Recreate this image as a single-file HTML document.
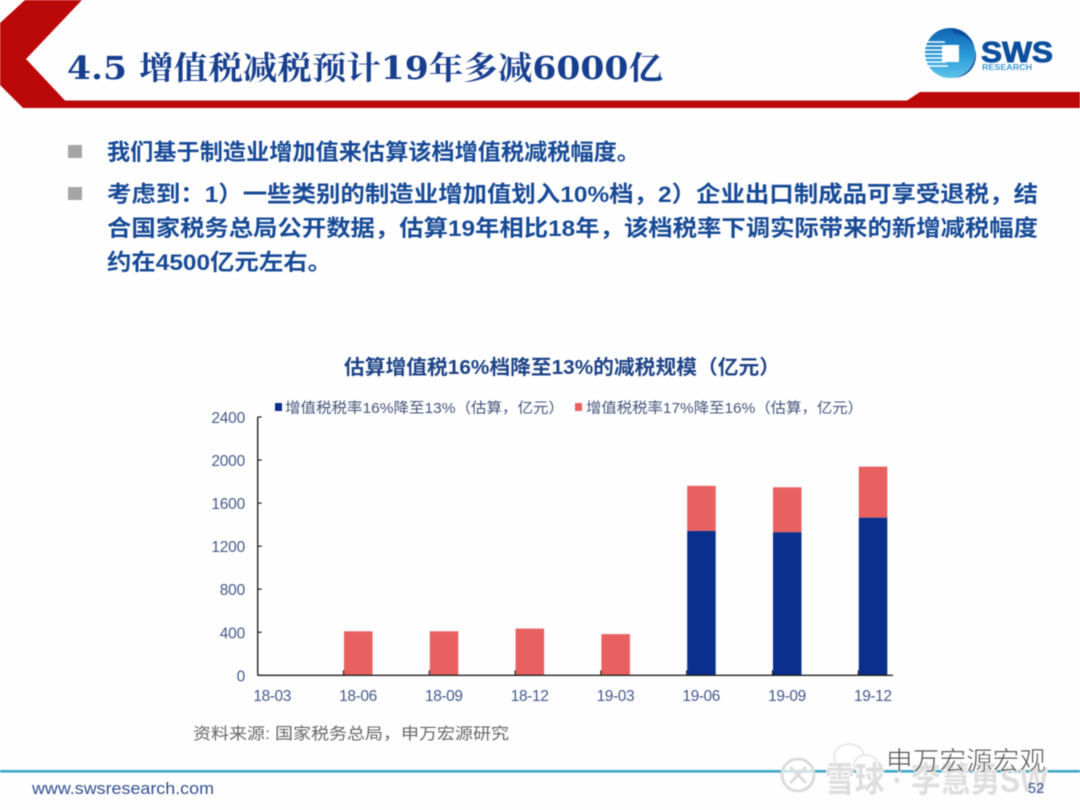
<!DOCTYPE html>
<html lang="zh">
<head>
<meta charset="utf-8">
<title>增值税减税预计</title>
<style>
html,body{margin:0;padding:0;background:#fefefe;width:1080px;height:810px;overflow:hidden}
svg{display:block;filter:blur(.5px)}
text{font-family:"Liberation Sans","Noto Sans CJK SC",sans-serif}
</style>
</head>
<body>
<svg id="slide" xmlns="http://www.w3.org/2000/svg" width="1080" height="810" viewBox="0 0 1080 810">
  <defs>
    <linearGradient id="logoGrad" x1="0" y1="0" x2="0" y2="1">
      <stop offset="0" stop-color="#0f62b0"/>
      <stop offset=".55" stop-color="#2a9bd8"/>
      <stop offset="1" stop-color="#5cc4ea"/>
    </linearGradient>
  </defs>
  <rect width="1080" height="810" fill="#fefefe"/>
  <polygon fill="#bb0808" points="25,0 82,0 26,59 65,100.5 907,100.5 920,92 1080,92 1080,108 23,108 0,85 0,23"/>
  <text x="67" y="79" font-size="32" font-weight="700" fill="#173f8e" textLength="596" lengthAdjust="spacingAndGlyphs" style="font-family:'DejaVu Serif','Noto Serif CJK SC',serif">4.5 增值税减税预计19年多减6000亿</text>

  <g>
    <circle cx="950" cy="53" r="25" fill="url(#logoGrad)"/>
    <path d="M950 28a25 25 0 0 1 4 49.700a22 22 0 0 0 0-44a26 26 0 0 0-4-5.700z" fill="#0b4f9e"/>
    <path d="M925 42h20M925 46h20M925 50h20M925 54h20M925 58h20M926 62h20M928 66h20" stroke="#fff" stroke-width="1.5"/>
    <rect x="942" y="45" width="17" height="17" fill="#fff"/>
    <text x="981" y="62" font-size="29" font-weight="700" fill="#0b4f9e" stroke="#0b4f9e" stroke-width=".9" textLength="72" lengthAdjust="spacingAndGlyphs">SWS</text>
    <text x="982" y="70" font-size="8.500" font-weight="700" fill="#3f9bd4" textLength="50" lengthAdjust="spacingAndGlyphs">RESEARCH</text>
  </g>

  <rect x="68" y="145" width="14" height="13" fill="#a5a5a5"/>
  <rect x="68" y="187" width="14" height="13" fill="#a5a5a5"/>
  <g font-size="22.5" font-weight="700" fill="#174a96">
    <text x="107" y="160" textLength="533" lengthAdjust="spacingAndGlyphs">我们基于制造业增加值来估算该档增值税减税幅度。</text>
    <text x="107" y="202" textLength="931" lengthAdjust="spacingAndGlyphs">考虑到：1）一些类别的制造业增加值划入10%档，2）企业出口制成品可享受退税，结</text>
    <text x="107" y="236" textLength="931" lengthAdjust="spacingAndGlyphs">合国家税务总局公开数据，估算19年相比18年，该档税率下调实际带来的新增减税幅度</text>
    <text x="107" y="270" textLength="225" lengthAdjust="spacingAndGlyphs">约在4500亿元左右。</text>
  </g>

  <text x="344" y="374" font-size="20" font-weight="700" fill="#1d4386" textLength="436" lengthAdjust="spacingAndGlyphs">估算增值税16%档降至13%的减税规模（亿元）</text>

  <g>
    <rect x="275" y="403" width="7" height="8" fill="#0a2f8c"/>
    <text x="285" y="413" font-size="14.5" fill="#44557a" textLength="279" lengthAdjust="spacingAndGlyphs">增值税税率16%降至13%（估算，亿元）</text>
    <rect x="575" y="403" width="7" height="8" fill="#e86060"/>
    <text x="586" y="413" font-size="14.5" fill="#44557a" textLength="277" lengthAdjust="spacingAndGlyphs">增值税税率17%降至16%（估算，亿元）</text>
  </g>

  <g id="chart"></g>

  <text x="193" y="739" font-size="16" fill="#666" textLength="316" lengthAdjust="spacingAndGlyphs">资料来源: 国家税务总局，申万宏源研究</text>

  <rect x="0" y="770" width="1080" height="2.6" fill="#3ba6c4"/>
  <text x="32" y="794" font-size="16.5" fill="#33508f" textLength="182" lengthAdjust="spacingAndGlyphs">www.swsresearch.com</text>

  <g>
    <g fill="#fff" stroke="#e2e2e2" stroke-width="1.5">
      <ellipse cx="849" cy="757" rx="15" ry="13"/>
      <ellipse cx="866" cy="765" rx="12" ry="10"/>
    </g>
    <g fill="#fff" fill-opacity=".7" stroke="#dcdcdc" stroke-width="3">
      <circle cx="798" cy="775" r="16"/>
      <path d="M790 767l16 16M806 767l-16 16" fill="none"/>
    </g>
    <text x="825" y="792" font-size="35" font-weight="700" fill="#dedede" stroke="#fff" stroke-width="1.5" paint-order="stroke" textLength="223" lengthAdjust="spacingAndGlyphs">雪球 · 李慧勇SW</text>
    <text x="886" y="770" font-size="26" fill="#5a5a5a" textLength="160" lengthAdjust="spacingAndGlyphs" stroke="#fff" stroke-width=".6">申万宏源宏观</text>
  </g>
  <text x="1028" y="793" font-size="14.5" fill="#33508f">52</text>
</svg>
<script>
const categories = ['18-03','18-06','18-09','18-12','19-03','19-06','19-09','19-12'];
const cut16to13 = [0,0,0,0,0,1342,1330,1465];
const cut17to16 = [0,409,409,434,383,418,417,474];
const yTickLabels = [0,400,800,1200,1600,2000,2400];

const SVGNS = 'http://www.w3.org/2000/svg';
const chart = document.getElementById('chart');
const plotLeft = 257.7, plotRight = 893, plotBottom = 675.3, plotTop = 417;
const yMax = 2400, step = 85.8, barWidth = 28.5;
const yScale = v => plotBottom - (v / yMax) * (plotBottom - plotTop);
const xScale = i => plotLeft + step * i;

function make(tag, attrs, text) {
  const el = document.createElementNS(SVGNS, tag);
  for (const k in attrs) el.setAttribute(k, attrs[k]);
  if (text !== undefined) el.textContent = text;
  chart.appendChild(el);
  return el;
}

categories.forEach((cat, i) => {
  const x = xScale(i) + .5;
  if (cut16to13[i] > 0) {
    const lower = make('rect', {x: x, y: yScale(cut16to13[i]), width: barWidth, height: plotBottom - yScale(cut16to13[i]), fill: '#0a2f8c'});
    
    
  }
  if (cut17to16[i] > 0) {
    const total = cut16to13[i] + cut17to16[i];
    const upper = make('rect', {x: x, y: yScale(total), width: barWidth, height: yScale(cut16to13[i]) - yScale(total), fill: '#e86060'});
    
    
  }
  if (i > 0) {
    const tick = make('line', {x1: xScale(i), x2: xScale(i), y1: plotBottom - 5, y2: plotBottom, stroke: '#222', 'stroke-width': 1.2});
    
    
  }
  const label = make('text', {x: xScale(i) + 14.5, y: 701, 'text-anchor': 'middle', 'font-size': 15.5, fill: '#44598a', 'letter-spacing': '-.4'}, cat);
  
  
});

yTickLabels.forEach(v => {
  const tick = make('line', {x1: plotLeft, x2: plotLeft + 4, y1: yScale(v), y2: yScale(v), stroke: '#222', 'stroke-width': 1.2});
  
  
  const label = make('text', {x: 245, y: yScale(v) + 6, 'text-anchor': 'end', 'font-size': 15.5, fill: '#44598a', 'letter-spacing': '-.2'}, String(v));
  
  
});

const yAxis = make('line', {x1: plotLeft, x2: plotLeft, y1: plotTop, y2: plotBottom, stroke: '#222', 'stroke-width': 1.4});


const xAxis = make('line', {x1: plotLeft, x2: plotRight, y1: plotBottom, y2: plotBottom, stroke: '#222', 'stroke-width': 1.4});


</script>
</body>
</html>
